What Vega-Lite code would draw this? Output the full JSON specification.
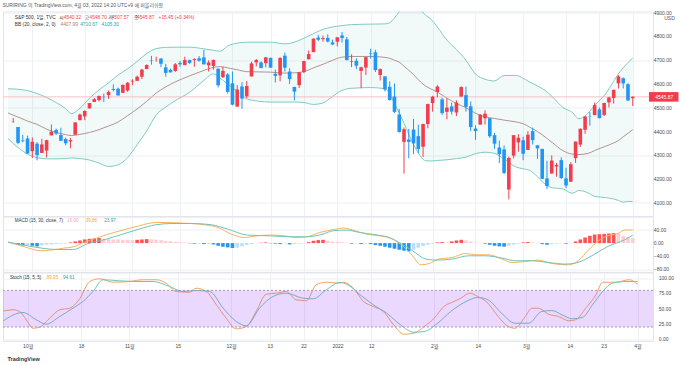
{
"$schema": "https://vega.github.io/schema/vega-lite/v6.json",
"background": "white",
"padding": {"left": 0, "top": 2.5, "right": 0, "bottom": 0},
"spacing": 0,
"bounds": "flush",
"title": {"text": "SURIRING 이 TradingView.com, 4월 03, 2022 14:20 UTC+9 에 퍼블리쉬함", "anchor": "start", "fontSize": 4.95, "fontWeight": "normal", "font": "Liberation Sans, Noto Sans CJK KR", "color": "#555", "offset": 2, "dx": 2},
"config": {
  "view": {"stroke": "#e0e3eb", "strokeWidth": 1},
  "axis": {"labelFont": "Liberation Sans", "labelFontSize": 5, "labelColor": "#4a4a4a", "gridColor": "#eef0f4", "gridWidth": 1, "ticks": false, "domain": false, "labelPadding": 4, "labelOverlap": false, "labelFlush": false},
  "text": {"font": "Liberation Sans, Noto Sans CJK KR"}
},
"datasets": {
"candles": [
{"i":-4,"o":4442.12,"h":4457.30,"l":4436.19,"c":4443.11},
{"i":-3,"o":4419.54,"h":4419.54,"l":4346.33,"c":4352.63},
{"i":-2,"o":4362.41,"h":4385.57,"l":4355.08,"c":4359.46},
{"i":-1,"o":4370.67,"h":4382.55,"l":4306.24,"c":4307.54},
{"i":0,"o":4317.16,"h":4375.19,"l":4288.52,"c":4357.04},
{"i":1,"o":4348.84,"h":4355.51,"l":4278.94,"c":4300.46},
{"i":2,"o":4309.87,"h":4369.23,"l":4309.87,"c":4345.72},
{"i":3,"o":4319.57,"h":4365.57,"l":4290.49,"c":4363.55},
{"i":4,"o":4383.73,"h":4429.97,"l":4383.73,"c":4399.76},
{"i":5,"o":4406.51,"h":4412.02,"l":4386.22,"c":4391.34},
{"i":6,"o":4385.44,"h":4415.88,"l":4360.59,"c":4361.19},
{"i":7,"o":4368.31,"h":4374.89,"l":4342.09,"c":4350.65},
{"i":8,"o":4358.01,"h":4372.87,"l":4329.92,"c":4363.80},
{"i":9,"o":4386.75,"h":4439.73,"l":4386.75,"c":4438.26},
{"i":10,"o":4447.69,"h":4475.82,"l":4447.69,"c":4471.37},
{"i":11,"o":4463.72,"h":4488.75,"l":4447.47,"c":4486.46},
{"i":12,"o":4497.34,"h":4520.40,"l":4496.41,"c":4519.63},
{"i":13,"o":4524.42,"h":4540.87,"l":4524.40,"c":4536.19},
{"i":14,"o":4532.24,"h":4551.44,"l":4526.89,"c":4549.78},
{"i":15,"o":4546.12,"h":4559.67,"l":4524.00,"c":4544.90},
{"i":16,"o":4553.69,"h":4572.62,"l":4537.36,"c":4566.48},
{"i":17,"o":4578.69,"h":4598.53,"l":4569.17,"c":4574.79},
{"i":18,"o":4580.22,"h":4584.57,"l":4551.66,"c":4551.68},
{"i":19,"o":4562.84,"h":4597.55,"l":4562.84,"c":4596.42},
{"i":20,"o":4572.87,"h":4608.08,"l":4567.59,"c":4605.38},
{"i":21,"o":4610.62,"h":4620.34,"l":4595.06,"c":4613.67},
{"i":22,"o":4613.34,"h":4635.15,"l":4613.34,"c":4630.65},
{"i":23,"o":4630.65,"h":4663.46,"l":4621.19,"c":4660.57},
{"i":24,"o":4662.93,"h":4683.00,"l":4662.59,"c":4680.06},
{"i":25,"o":4699.26,"h":4718.50,"l":4681.32,"c":4697.53},
{"i":26,"o":4701.48,"h":4714.92,"l":4694.39,"c":4701.70},
{"i":27,"o":4707.25,"h":4708.53,"l":4670.87,"c":4685.25},
{"i":28,"o":4670.26,"h":4684.85,"l":4630.86,"c":4646.71},
{"i":29,"o":4659.39,"h":4664.55,"l":4648.31,"c":4649.27},
{"i":30,"o":4655.24,"h":4688.47,"l":4650.77,"c":4682.85},
{"i":31,"o":4689.30,"h":4697.42,"l":4672.86,"c":4682.80},
{"i":32,"o":4679.42,"h":4714.95,"l":4679.42,"c":4700.90},
{"i":33,"o":4701.50,"h":4701.50,"l":4684.41,"c":4688.67},
{"i":34,"o":4700.72,"h":4708.80,"l":4672.78,"c":4704.54},
{"i":35,"o":4708.44,"h":4717.75,"l":4694.22,"c":4697.96},
{"i":36,"o":4712.00,"h":4743.83,"l":4682.17,"c":4682.94},
{"i":37,"o":4678.48,"h":4699.39,"l":4652.66,"c":4690.70},
{"i":38,"o":4675.78,"h":4702.87,"l":4659.89,"c":4701.46},
{"i":39,"o":4664.63,"h":4664.63,"l":4585.43,"c":4594.62},
{"i":40,"o":4628.75,"h":4672.95,"l":4625.26,"c":4655.27},
{"i":41,"o":4640.25,"h":4646.02,"l":4560.00,"c":4567.00},
{"i":42,"o":4602.82,"h":4652.94,"l":4510.27,"c":4513.04},
{"i":43,"o":4504.73,"h":4595.46,"l":4504.73,"c":4577.10},
{"i":44,"o":4589.49,"h":4608.03,"l":4495.12,"c":4538.43},
{"i":45,"o":4548.37,"h":4612.60,"l":4540.51,"c":4591.67},
{"i":46,"o":4631.97,"h":4694.04,"l":4631.97,"c":4686.75},
{"i":47,"o":4690.86,"h":4705.06,"l":4674.52,"c":4701.21},
{"i":48,"o":4691.00,"h":4695.26,"l":4665.98,"c":4667.45},
{"i":49,"o":4687.64,"h":4713.57,"l":4670.24,"c":4712.02},
{"i":50,"o":4710.30,"h":4710.30,"l":4667.60,"c":4668.97},
{"i":51,"o":4642.99,"h":4660.47,"l":4606.52,"c":4634.09},
{"i":52,"o":4636.46,"h":4712.60,"l":4611.22,"c":4709.85},
{"i":53,"o":4719.13,"h":4731.99,"l":4651.89,"c":4668.67},
{"i":54,"o":4652.50,"h":4666.70,"l":4600.22,"c":4620.64},
{"i":55,"o":4587.90,"h":4587.90,"l":4531.10,"c":4568.02},
{"i":56,"o":4594.96,"h":4651.14,"l":4583.16,"c":4649.23},
{"i":57,"o":4650.36,"h":4697.67,"l":4645.53,"c":4696.56},
{"i":58,"o":4703.96,"h":4740.74,"l":4703.96,"c":4725.79},
{"i":59,"o":4733.99,"h":4791.49,"l":4733.99,"c":4791.19},
{"i":60,"o":4795.49,"h":4807.02,"l":4780.04,"c":4786.35},
{"i":61,"o":4788.64,"h":4804.06,"l":4778.08,"c":4793.06},
{"i":62,"o":4794.23,"h":4808.93,"l":4775.33,"c":4778.73},
{"i":63,"o":4775.21,"h":4786.83,"l":4765.75,"c":4766.18},
{"i":64,"o":4778.14,"h":4796.64,"l":4758.17,"c":4796.56},
{"i":65,"o":4804.51,"h":4818.62,"l":4774.27,"c":4793.54},
{"i":66,"o":4787.99,"h":4797.70,"l":4699.44,"c":4700.58},
{"i":67,"o":4693.39,"h":4725.01,"l":4671.26,"c":4696.05},
{"i":68,"o":4697.66,"h":4707.95,"l":4662.74,"c":4677.03},
{"i":69,"o":4655.34,"h":4673.02,"l":4582.24,"c":4670.29},
{"i":70,"o":4669.14,"h":4714.13,"l":4638.27,"c":4713.07},
{"i":71,"o":4728.59,"h":4748.83,"l":4706.71,"c":4726.35},
{"i":72,"o":4733.56,"h":4744.13,"l":4650.29,"c":4659.03},
{"i":73,"o":4637.99,"h":4665.13,"l":4614.75,"c":4662.85},
{"i":74,"o":4632.24,"h":4632.24,"l":4568.70,"c":4577.11},
{"i":75,"o":4588.03,"h":4611.55,"l":4530.20,"c":4532.76},
{"i":76,"o":4547.35,"h":4602.11,"l":4477.95,"c":4482.73},
{"i":77,"o":4471.38,"h":4494.52,"l":4395.34,"c":4397.94},
{"i":78,"o":4356.32,"h":4417.35,"l":4222.62,"c":4410.13},
{"i":79,"o":4366.64,"h":4411.01,"l":4287.11,"c":4356.45},
{"i":80,"o":4408.43,"h":4453.23,"l":4304.80,"c":4349.93},
{"i":81,"o":4380.58,"h":4428.74,"l":4309.50,"c":4326.51},
{"i":82,"o":4336.19,"h":4432.72,"l":4292.46,"c":4431.85},
{"i":83,"o":4431.79,"h":4516.89,"l":4414.02,"c":4515.55},
{"i":84,"o":4519.57,"h":4550.49,"l":4483.53,"c":4546.54},
{"i":85,"o":4566.39,"h":4595.31,"l":4544.32,"c":4589.38},
{"i":86,"o":4535.41,"h":4542.88,"l":4470.39,"c":4477.44},
{"i":87,"o":4482.79,"h":4539.66,"l":4451.50,"c":4500.53},
{"i":88,"o":4505.75,"h":4521.86,"l":4471.47,"c":4483.87},
{"i":89,"o":4480.02,"h":4531.32,"l":4465.40,"c":4521.54},
{"i":90,"o":4547.00,"h":4590.03,"l":4547.00,"c":4587.18},
{"i":91,"o":4553.24,"h":4588.92,"l":4484.31,"c":4504.08},
{"i":92,"o":4506.27,"h":4526.33,"l":4401.41,"c":4418.64},
{"i":93,"o":4412.61,"h":4426.22,"l":4364.84,"c":4401.67},
{"i":94,"o":4429.28,"h":4472.77,"l":4429.28,"c":4471.07},
{"i":95,"o":4455.75,"h":4489.55,"l":4429.68,"c":4475.01},
{"i":96,"o":4456.06,"h":4456.06,"l":4373.81,"c":4380.26},
{"i":97,"o":4384.57,"h":4394.60,"l":4327.22,"c":4348.87},
{"i":98,"o":4332.74,"h":4362.12,"l":4267.11,"c":4304.76},
{"i":99,"o":4324.93,"h":4341.51,"l":4221.51,"c":4225.50},
{"i":100,"o":4155.77,"h":4294.73,"l":4114.65,"c":4288.70},
{"i":101,"o":4298.38,"h":4385.34,"l":4286.83,"c":4384.65},
{"i":102,"o":4354.17,"h":4388.84,"l":4315.12,"c":4373.94},
{"i":103,"o":4363.14,"h":4378.45,"l":4279.54,"c":4306.26},
{"i":104,"o":4322.56,"h":4401.48,"l":4322.56,"c":4386.54},
{"i":105,"o":4401.31,"h":4416.78,"l":4345.56,"c":4363.49},
{"i":106,"o":4342.12,"h":4342.12,"l":4284.98,"c":4328.87},
{"i":107,"o":4327.01,"h":4327.01,"l":4199.85,"c":4201.09},
{"i":108,"o":4202.66,"h":4276.94,"l":4157.87,"c":4170.70},
{"i":109,"o":4223.10,"h":4299.40,"l":4223.10,"c":4277.88},
{"i":110,"o":4252.55,"h":4268.28,"l":4209.80,"c":4259.52},
{"i":111,"o":4279.50,"h":4291.20,"l":4200.49,"c":4204.31},
{"i":112,"o":4202.75,"h":4247.57,"l":4161.72,"c":4173.11},
{"i":113,"o":4188.82,"h":4271.05,"l":4187.90,"c":4262.45},
{"i":114,"o":4288.14,"h":4357.86,"l":4267.92,"c":4357.86},
{"i":115,"o":4345.11,"h":4412.67,"l":4335.65,"c":4411.67},
{"i":116,"o":4407.34,"h":4465.40,"l":4390.57,"c":4463.12},
{"i":117,"o":4462.40,"h":4481.75,"l":4424.30,"c":4461.18},
{"i":118,"o":4469.10,"h":4522.00,"l":4469.10,"c":4511.61},
{"i":119,"o":4493.10,"h":4501.07,"l":4455.81,"c":4456.24},
{"i":120,"o":4469.98,"h":4520.58,"l":4465.17,"c":4520.16},
{"i":121,"o":4522.66,"h":4546.03,"l":4501.07,"c":4543.06},
{"i":122,"o":4541.09,"h":4575.65,"l":4517.69,"c":4575.52},
{"i":123,"o":4602.86,"h":4637.30,"l":4581.32,"c":4631.60},
{"i":124,"o":4624.20,"h":4627.77,"l":4581.32,"c":4602.45},
{"i":125,"o":4599.02,"h":4603.07,"l":4530.41,"c":4530.41},
{"i":126,"o":4540.32,"h":4548.70,"l":4507.57,"c":4545.87}
],
"bb": [
{"i":-5.1,"u":4580,"m":4478,"lo":4370},
{"i":-3,"u":4578,"m":4461,"lo":4333},
{"i":-1,"u":4572,"m":4444,"lo":4305},
{"i":1,"u":4560,"m":4430,"lo":4290},
{"i":3,"u":4543,"m":4410,"lo":4285},
{"i":5,"u":4522,"m":4396,"lo":4285},
{"i":7,"u":4496,"m":4387,"lo":4286},
{"i":8.2,"u":4475,"m":4383,"lo":4289},
{"i":10,"u":4498,"m":4388,"lo":4286},
{"i":12,"u":4540,"m":4396,"lo":4280},
{"i":14,"u":4575,"m":4408,"lo":4267},
{"i":16,"u":4605,"m":4423,"lo":4253},
{"i":18,"u":4638,"m":4440,"lo":4260},
{"i":20,"u":4664,"m":4467,"lo":4290},
{"i":22,"u":4695,"m":4495,"lo":4345},
{"i":24,"u":4728,"m":4527,"lo":4402},
{"i":26,"u":4749,"m":4562,"lo":4470},
{"i":28,"u":4754,"m":4588,"lo":4503},
{"i":30,"u":4755,"m":4609,"lo":4530},
{"i":33,"u":4755,"m":4634,"lo":4565},
{"i":36,"u":4748,"m":4657,"lo":4615},
{"i":38,"u":4742,"m":4670,"lo":4643},
{"i":39.4,"u":4738,"m":4673,"lo":4625},
{"i":41,"u":4760,"m":4668,"lo":4600},
{"i":43,"u":4772,"m":4660,"lo":4570},
{"i":45,"u":4776,"m":4652,"lo":4537},
{"i":50,"u":4776,"m":4650,"lo":4524},
{"i":53,"u":4769,"m":4646,"lo":4524},
{"i":55,"u":4776,"m":4647,"lo":4524},
{"i":57,"u":4793,"m":4652,"lo":4522},
{"i":59,"u":4812,"m":4668,"lo":4514},
{"i":61,"u":4830,"m":4683,"lo":4520},
{"i":63,"u":4840,"m":4700,"lo":4548},
{"i":65,"u":4846,"m":4713,"lo":4573},
{"i":67,"u":4850,"m":4716,"lo":4582},
{"i":71,"u":4852,"m":4716,"lo":4585},
{"i":74,"u":4853,"m":4712,"lo":4580},
{"i":75,"u":4858,"m":4708,"lo":4560},
{"i":76,"u":4878,"m":4700,"lo":4518},
{"i":77,"u":4905,"m":4692,"lo":4478},
{"i":78,"u":4925,"m":4675,"lo":4435},
{"i":80,"u":4935,"m":4640,"lo":4345},
{"i":81.5,"u":4910,"m":4608,"lo":4295},
{"i":82.5,"u":4890,"m":4592,"lo":4277},
{"i":83.6,"u":4874,"m":4580,"lo":4276},
{"i":85,"u":4840,"m":4566,"lo":4278},
{"i":87,"u":4785,"m":4541,"lo":4281},
{"i":89,"u":4745,"m":4518,"lo":4286},
{"i":91,"u":4700,"m":4500,"lo":4292},
{"i":93,"u":4642,"m":4477,"lo":4307},
{"i":95,"u":4620,"m":4462,"lo":4313},
{"i":97,"u":4613,"m":4455,"lo":4308},
{"i":99,"u":4636,"m":4448,"lo":4284},
{"i":101.6,"u":4636,"m":4440,"lo":4250},
{"i":103,"u":4624,"m":4433,"lo":4243},
{"i":104.4,"u":4608,"m":4418,"lo":4236},
{"i":106,"u":4592,"m":4400,"lo":4210},
{"i":107.1,"u":4580,"m":4385,"lo":4187},
{"i":109.2,"u":4545,"m":4352,"lo":4163},
{"i":111.3,"u":4502,"m":4320,"lo":4159},
{"i":113.3,"u":4481,"m":4305,"lo":4140},
{"i":114.7,"u":4454,"m":4303,"lo":4152},
{"i":116.8,"u":4481,"m":4309,"lo":4140},
{"i":118,"u":4510,"m":4320,"lo":4127},
{"i":120.3,"u":4559,"m":4338,"lo":4122},
{"i":122,"u":4612,"m":4352,"lo":4116},
{"i":123,"u":4643,"m":4362,"lo":4110},
{"i":124,"u":4668,"m":4378,"lo":4103},
{"i":125.1,"u":4692,"m":4394,"lo":4106},
{"i":126,"u":4710.67,"m":4407.99,"lo":4105.30}
],
"macd": [
{"i":-5.1,"v":3},{"i":-1.65,"v":-11.2},{"i":1.78,"v":-23.3},{"i":3.84,"v":-21.2},{"i":6.61,"v":-15.2},{"i":8.68,"v":-11.2},{"i":10.75,"v":1.8},{"i":13.5,"v":15.2},{"i":15.56,"v":25.2},{"i":19,"v":39.4},{"i":22.4,"v":52.4},{"i":25.9,"v":62.4},{"i":27.96,"v":62.4},{"i":31.4,"v":60.6},{"i":36.2,"v":55.5},{"i":38.98,"v":47.3},{"i":41.74,"v":27.3},{"i":44.5,"v":17},{"i":47.24,"v":22.1},{"i":50,"v":24.2},{"i":52.8,"v":22.1},{"i":55.5,"v":17},{"i":57.6,"v":19.1},{"i":60.3,"v":32.1},{"i":63.8,"v":42.4},{"i":65.2,"v":45.5},{"i":67.3,"v":39.4},{"i":70.06,"v":27.3},{"i":72.8,"v":22.1},{"i":75.6,"v":12.1},{"i":77.7,"v":-8.2},{"i":79.8,"v":-38.5},{"i":81.5,"v":-65.8},{"i":83.3,"v":-61.8},{"i":85.3,"v":-48.5},{"i":88.1,"v":-43.6},{"i":90.9,"v":-31.5},{"i":93,"v":-35.5},{"i":95.8,"v":-35.5},{"i":98.6,"v":-48.5},{"i":100.7,"v":-58.8},{"i":103.5,"v":-55.8},{"i":106.2,"v":-51.5},{"i":109,"v":-61.8},{"i":112.5,"v":-65.8},{"i":114.6,"v":-53.6},{"i":116.7,"v":-21.2},{"i":118.8,"v":7},{"i":120.8,"v":22.1},{"i":122.9,"v":29.1},{"i":124.3,"v":39.4},{"i":126,"v":39.86}
],
"signal": [
{"i":-5.1,"v":3},{"i":-0.97,"v":-8.2},{"i":2.5,"v":-16.4},{"i":5.2,"v":-19.4},{"i":8.68,"v":-19.4},{"i":11.4,"v":-3},{"i":15.56,"v":12.1},{"i":19,"v":27.3},{"i":22.4,"v":42.4},{"i":25.9,"v":55.5},{"i":29.3,"v":59.4},{"i":33.5,"v":59.4},{"i":37.6,"v":55.5},{"i":41,"v":42.4},{"i":45.2,"v":24.2},{"i":50,"v":22.1},{"i":54.1,"v":19.1},{"i":57.6,"v":19.1},{"i":61,"v":27.3},{"i":63.1,"v":37.3},{"i":65.9,"v":39.4},{"i":68.7,"v":32.1},{"i":72.1,"v":25.2},{"i":74.9,"v":17},{"i":77,"v":1.8},{"i":79.8,"v":-23.3},{"i":82.6,"v":-48.5},{"i":84.7,"v":-51.5},{"i":88.1,"v":-48.5},{"i":91.6,"v":-38.5},{"i":95.1,"v":-38.5},{"i":98.6,"v":-45.5},{"i":101.4,"v":-53.6},{"i":104.8,"v":-53.6},{"i":108.3,"v":-58.8},{"i":111.8,"v":-63.6},{"i":114.6,"v":-58},{"i":117.4,"v":-38.5},{"i":120.8,"v":-10},{"i":124.3,"v":10},{"i":126,"v":23.97}
],
"hist": [
{"i":-4,"h":-2,"t":"L"},{"i":-3,"h":-5,"t":"B"},{"i":-2,"h":-7,"t":"B"},{"i":-1,"h":-6,"t":"L"},{"i":0,"h":-8,"t":"B"},{"i":1,"h":-10,"t":"B"},{"i":2,"h":-7,"t":"L"},{"i":3,"h":-5,"t":"L"},{"i":4,"h":-4,"t":"L"},{"i":5,"h":-3,"t":"L"},{"i":6,"h":-2,"t":"L"},{"i":7,"h":-1,"t":"L"},{"i":8,"h":2,"t":"R"},{"i":9,"h":5,"t":"R"},{"i":10,"h":8,"t":"R"},{"i":11,"h":11,"t":"R"},{"i":12,"h":13,"t":"R"},{"i":13,"h":14,"t":"R"},{"i":14,"h":15,"t":"R"},{"i":15,"h":13,"t":"P"},{"i":16,"h":12,"t":"P"},{"i":17,"h":11,"t":"P"},{"i":18,"h":11,"t":"P"},{"i":19,"h":10,"t":"P"},{"i":20,"h":10,"t":"P"},{"i":21,"h":9,"t":"P"},{"i":22,"h":10,"t":"R"},{"i":23,"h":11,"t":"R"},{"i":24,"h":12,"t":"R"},{"i":25,"h":11,"t":"P"},{"i":26,"h":10,"t":"P"},{"i":27,"h":9,"t":"P"},{"i":28,"h":7,"t":"P"},{"i":29,"h":6,"t":"P"},{"i":30,"h":4,"t":"P"},{"i":31,"h":3,"t":"P"},{"i":32,"h":2,"t":"P"},{"i":33,"h":-1,"t":"B"},{"i":34,"h":-2,"t":"B"},{"i":35,"h":-2,"t":"L"},{"i":36,"h":-3,"t":"B"},{"i":37,"h":-3,"t":"L"},{"i":38,"h":-4,"t":"B"},{"i":39,"h":-8,"t":"B"},{"i":40,"h":-11,"t":"B"},{"i":41,"h":-13,"t":"B"},{"i":42,"h":-15,"t":"B"},{"i":43,"h":-14,"t":"L"},{"i":44,"h":-10,"t":"L"},{"i":45,"h":-6,"t":"L"},{"i":46,"h":-3,"t":"L"},{"i":47,"h":-1,"t":"L"},{"i":48,"h":1,"t":"R"},{"i":49,"h":2,"t":"R"},{"i":50,"h":-1,"t":"B"},{"i":51,"h":-2,"t":"B"},{"i":52,"h":-3,"t":"B"},{"i":53,"h":-1,"t":"L"},{"i":54,"h":-4,"t":"B"},{"i":55,"h":-3,"t":"L"},{"i":56,"h":-2,"t":"L"},{"i":57,"h":-1,"t":"L"},{"i":58,"h":3,"t":"R"},{"i":59,"h":7,"t":"R"},{"i":60,"h":9,"t":"R"},{"i":61,"h":10,"t":"R"},{"i":62,"h":7,"t":"P"},{"i":63,"h":5,"t":"P"},{"i":64,"h":4,"t":"P"},{"i":65,"h":3,"t":"P"},{"i":66,"h":1,"t":"P"},{"i":67,"h":-2,"t":"B"},{"i":68,"h":-1,"t":"L"},{"i":69,"h":-3,"t":"B"},{"i":70,"h":-2,"t":"L"},{"i":71,"h":-3,"t":"B"},{"i":72,"h":-6,"t":"B"},{"i":73,"h":-8,"t":"B"},{"i":74,"h":-11,"t":"B"},{"i":75,"h":-14,"t":"B"},{"i":76,"h":-17,"t":"B"},{"i":77,"h":-20,"t":"B"},{"i":78,"h":-23,"t":"B"},{"i":79,"h":-25,"t":"B"},{"i":80,"h":-20,"t":"L"},{"i":81,"h":-14,"t":"L"},{"i":82,"h":-9,"t":"L"},{"i":83,"h":-5,"t":"L"},{"i":84,"h":-2,"t":"L"},{"i":85,"h":2,"t":"R"},{"i":86,"h":3,"t":"R"},{"i":87,"h":2,"t":"P"},{"i":88,"h":5,"t":"R"},{"i":89,"h":8,"t":"R"},{"i":90,"h":10,"t":"R"},{"i":91,"h":8,"t":"P"},{"i":92,"h":5,"t":"P"},{"i":93,"h":2,"t":"P"},{"i":94,"h":1,"t":"P"},{"i":95,"h":-2,"t":"B"},{"i":96,"h":-5,"t":"B"},{"i":97,"h":-8,"t":"B"},{"i":98,"h":-10,"t":"B"},{"i":99,"h":-11,"t":"B"},{"i":100,"h":-8,"t":"L"},{"i":101,"h":-5,"t":"L"},{"i":102,"h":-2,"t":"L"},{"i":103,"h":2,"t":"R"},{"i":104,"h":3,"t":"R"},{"i":105,"h":2,"t":"P"},{"i":106,"h":1,"t":"P"},{"i":107,"h":-3,"t":"B"},{"i":108,"h":-5,"t":"B"},{"i":109,"h":-3,"t":"L"},{"i":110,"h":-2,"t":"L"},{"i":111,"h":-1,"t":"L"},{"i":112,"h":-2,"t":"B"},{"i":113,"h":-1,"t":"L"},{"i":114,"h":5,"t":"R"},{"i":115,"h":11,"t":"R"},{"i":116,"h":17,"t":"R"},{"i":117,"h":22,"t":"R"},{"i":118,"h":26,"t":"R"},{"i":119,"h":27,"t":"R"},{"i":120,"h":28,"t":"R"},{"i":121,"h":29,"t":"R"},{"i":122,"h":30,"t":"R"},{"i":123,"h":28,"t":"P"},{"i":124,"h":22,"t":"P"},{"i":125,"h":18,"t":"P"},{"i":126,"h":15.9,"t":"P"}
],
"stk": [
{"i":-5.1,"v":46},{"i":-3.04,"v":48.2},{"i":-1.65,"v":45.4},{"i":-0.29,"v":31.8},{"i":1.1,"v":18},{"i":2.48,"v":19.7},{"i":4.55,"v":34.4},{"i":6.61,"v":48.2},{"i":8.68,"v":50.8},{"i":10.75,"v":66.2},{"i":12.8,"v":94.6},{"i":14.9,"v":99},{"i":17.6,"v":93.4},{"i":21.1,"v":94.6},{"i":23.8,"v":97.4},{"i":26.6,"v":97.4},{"i":28.6,"v":91.8},{"i":30.7,"v":78.2},{"i":33.5,"v":77},{"i":34.8,"v":83.6},{"i":36.9,"v":78.2},{"i":39,"v":56.4},{"i":41,"v":34.4},{"i":43.1,"v":17},{"i":45.2,"v":20.8},{"i":47.2,"v":45.4},{"i":49.3,"v":73.8},{"i":51.4,"v":75.4},{"i":53.4,"v":78.2},{"i":55.5,"v":64.6},{"i":57.6,"v":63},{"i":59.6,"v":89.2},{"i":61.7,"v":93.4},{"i":64.5,"v":91.8},{"i":65.2,"v":93.4},{"i":67.3,"v":83.6},{"i":69.4,"v":61.8},{"i":71.4,"v":53.6},{"i":73.5,"v":45.4},{"i":75.6,"v":23.6},{"i":77.7,"v":8.2},{"i":79.8,"v":9.8},{"i":81.9,"v":20.8},{"i":84,"v":34.4},{"i":86,"v":53.6},{"i":88.1,"v":61.8},{"i":89.5,"v":67.2},{"i":91.3,"v":75.4},{"i":93,"v":70},{"i":95.1,"v":59},{"i":97.2,"v":37.2},{"i":99.3,"v":20.8},{"i":100.7,"v":18},{"i":102.8,"v":37.2},{"i":104.2,"v":50.8},{"i":105.5,"v":50.8},{"i":107.6,"v":41},{"i":109.7,"v":37.2},{"i":111.8,"v":30.2},{"i":113.2,"v":31.8},{"i":115.3,"v":50.8},{"i":117.4,"v":72.8},{"i":118.8,"v":93.4},{"i":121.5,"v":93.4},{"i":124.3,"v":97.4},{"i":126,"v":89.95}
],
"std": [
{"i":-5.1,"v":30},{"i":-0.97,"v":43.8},{"i":1.78,"v":31.8},{"i":3.84,"v":24.6},{"i":6.61,"v":37.2},{"i":9.36,"v":50.8},{"i":11.4,"v":61.8},{"i":13.5,"v":78.2},{"i":15.56,"v":97.4},{"i":19,"v":95.7},{"i":22.4,"v":94.6},{"i":25.9,"v":94.6},{"i":29.3,"v":86.4},{"i":32.1,"v":78.2},{"i":34.8,"v":79.8},{"i":37.6,"v":78.2},{"i":40.4,"v":50.8},{"i":43.1,"v":29},{"i":45.2,"v":22},{"i":47.9,"v":50.8},{"i":50.7,"v":70},{"i":53.4,"v":75.4},{"i":56.9,"v":67.2},{"i":59,"v":66.2},{"i":61.7,"v":81},{"i":64.5,"v":93},{"i":65.9,"v":90.2},{"i":68.7,"v":72.8},{"i":71.4,"v":56.4},{"i":74.2,"v":42.6},{"i":77,"v":23.6},{"i":79.8,"v":11.5},{"i":81.9,"v":12.6},{"i":84.7,"v":26.2},{"i":87.4,"v":45.4},{"i":90.9,"v":63},{"i":93,"v":68.4},{"i":95.1,"v":64.6},{"i":97.9,"v":42.6},{"i":100.7,"v":26.2},{"i":103.5,"v":26.2},{"i":106.2,"v":45.4},{"i":108.3,"v":47},{"i":110.4,"v":40},{"i":112.5,"v":33.4},{"i":114.6,"v":35.6},{"i":116.7,"v":56.4},{"i":118.8,"v":78.2},{"i":120.8,"v":91.8},{"i":123.7,"v":94.6},{"i":126,"v":94.61}
]
},
"vconcat": [
{
 "width": 650, "height": 204.7,
 "layer": [
  {"data": {"name": "bb"}, "mark": {"type": "area", "interpolate": "monotone", "color": "#26a69a", "opacity": 0.06, "clip": true},
   "encoding": {
    "x": {"field": "i", "type": "quantitative", "scale": {"domain": [-5.1, 129.2], "nice": false, "zero": false},
      "axis": {"values": [0,11,21,31,42,50,57,64,71,84,93,103,112,119,126], "labels": false, "grid": true, "title": null}},
    "y": {"field": "u", "type": "quantitative", "scale": {"domain": [4043.6, 4905.2], "nice": false, "zero": false},
      "axis": {"orient": "right", "values": [4100,4200,4300,4400,4500,4600,4700,4800,4900], "labels": false, "grid": true, "title": "USD", "titleAngle": 0, "titleFontSize": 5, "titleFontWeight": "normal", "titleColor": "#555", "titleX": 16, "titleY": 6, "titleAlign": "center", "titleBaseline": "middle", "titleFont": "Liberation Sans"}},
    "y2": {"field": "lo"}}},
  {"data": {"name": "bb"}, "mark": {"type": "line", "interpolate": "monotone", "color": "#7ecbc1", "strokeWidth": 1, "clip": true},
   "encoding": {"x": {"field": "i", "type": "quantitative"}, "y": {"field": "u", "type": "quantitative"}}},
  {"data": {"name": "bb"}, "mark": {"type": "line", "interpolate": "monotone", "color": "#7ecbc1", "strokeWidth": 1, "clip": true},
   "encoding": {"x": {"field": "i", "type": "quantitative"}, "y": {"field": "lo", "type": "quantitative"}}},
  {"data": {"name": "bb"}, "mark": {"type": "line", "interpolate": "monotone", "color": "#b3928c", "strokeWidth": 1, "clip": true},
   "encoding": {"x": {"field": "i", "type": "quantitative"}, "y": {"field": "m", "type": "quantitative"}}},
  {"data": {"values": [{}]}, "mark": {"type": "rule", "color": "#f7b3b8", "strokeWidth": 0.8},
   "encoding": {"y": {"datum": 4545.87}}},
  {"data": {"name": "candles"}, "mark": {"type": "rule", "strokeWidth": 1},
   "encoding": {"x": {"field": "i", "type": "quantitative"}, "y": {"field": "l", "type": "quantitative"}, "y2": {"field": "h"},
     "color": {"condition": {"test": "datum.c >= datum.o", "value": "#f23d4f"}, "value": "#2196f3"}}},
  {"data": {"name": "candles"}, "mark": {"type": "bar", "width": 3.6},
   "encoding": {"x": {"field": "i", "type": "quantitative"}, "y": {"field": "o", "type": "quantitative"}, "y2": {"field": "c"},
     "color": {"condition": {"test": "datum.c >= datum.o", "value": "#f23d4f"}, "value": "#2196f3"}}},
  {"data": {"values": [{"v":4100},{"v":4200},{"v":4300},{"v":4400},{"v":4500},{"v":4600},{"v":4700},{"v":4800},{"v":4900}]},
   "mark": {"type": "text", "align": "left", "baseline": "middle", "fontSize": 5, "color": "#4a4a4a", "font": "Liberation Sans"},
   "encoding": {"x": {"datum": 130.4}, "y": {"field": "v", "type": "quantitative"}, "text": {"field": "v", "type": "quantitative", "format": ".2f"}}},
  {"data": {"values": [{}]}, "mark": {"type": "text", "text": "S&P 500, 1일, TVC", "align": "left", "baseline": "middle", "fontSize": 4.8, "color": "#333"},
   "encoding": {"x": {"datum": -3.66}, "y": {"datum": 4878.7}}},
  {"data": {"values": [{}]}, "mark": {"type": "text", "text": "시", "align": "left", "baseline": "middle", "fontSize": 4.8, "color": "#333"},
   "encoding": {"x": {"datum": 5.64}, "y": {"datum": 4878.7}}},
  {"data": {"values": [{}]}, "mark": {"type": "text", "text": "4540.32", "align": "left", "baseline": "middle", "fontSize": 4.8, "color": "#f23d4f"},
   "encoding": {"x": {"datum": 6.61}, "y": {"datum": 4878.7}}},
  {"data": {"values": [{}]}, "mark": {"type": "text", "text": "고", "align": "left", "baseline": "middle", "fontSize": 4.8, "color": "#333"},
   "encoding": {"x": {"datum": 11.0}, "y": {"datum": 4878.7}}},
  {"data": {"values": [{}]}, "mark": {"type": "text", "text": "4548.70", "align": "left", "baseline": "middle", "fontSize": 4.8, "color": "#f23d4f"},
   "encoding": {"x": {"datum": 12.0}, "y": {"datum": 4878.7}}},
  {"data": {"values": [{}]}, "mark": {"type": "text", "text": "저", "align": "left", "baseline": "middle", "fontSize": 4.8, "color": "#333"},
   "encoding": {"x": {"datum": 15.97}, "y": {"datum": 4878.7}}},
  {"data": {"values": [{}]}, "mark": {"type": "text", "text": "4507.57", "align": "left", "baseline": "middle", "fontSize": 4.8, "color": "#f23d4f"},
   "encoding": {"x": {"datum": 16.66}, "y": {"datum": 4878.7}}},
  {"data": {"values": [{}]}, "mark": {"type": "text", "text": "종", "align": "left", "baseline": "middle", "fontSize": 4.8, "color": "#333"},
   "encoding": {"x": {"datum": 21.35}, "y": {"datum": 4878.7}}},
  {"data": {"values": [{}]}, "mark": {"type": "text", "text": "4545.87", "align": "left", "baseline": "middle", "fontSize": 4.8, "color": "#f23d4f"},
   "encoding": {"x": {"datum": 21.97}, "y": {"datum": 4878.7}}},
  {"data": {"values": [{}]}, "mark": {"type": "text", "text": "+15.45 (+0.34%)", "align": "left", "baseline": "middle", "fontSize": 4.8, "color": "#f23d4f"},
   "encoding": {"x": {"datum": 26.5}, "y": {"datum": 4878.7}}},
  {"data": {"values": [{}]}, "mark": {"type": "text", "text": "BB (20, close, 2, 0)", "align": "left", "baseline": "middle", "fontSize": 4.8, "color": "#333"},
   "encoding": {"x": {"datum": -3.66}, "y": {"datum": 4849.2}}},
  {"data": {"values": [{}]}, "mark": {"type": "text", "text": "4407.99", "align": "left", "baseline": "middle", "fontSize": 4.8, "color": "#b07a74"},
   "encoding": {"x": {"datum": 5.91}, "y": {"datum": 4849.2}}},
  {"data": {"values": [{}]}, "mark": {"type": "text", "text": "4710.67", "align": "left", "baseline": "middle", "fontSize": 4.8, "color": "#26a69a"},
   "encoding": {"x": {"datum": 10.04}, "y": {"datum": 4849.2}}},
  {"data": {"values": [{}]}, "mark": {"type": "text", "text": "4105.30", "align": "left", "baseline": "middle", "fontSize": 4.8, "color": "#26a69a"},
   "encoding": {"x": {"datum": 14.53}, "y": {"datum": 4849.2}}},
  {"data": {"values": [{}]}, "mark": {"type": "rect", "color": "#f23d4f"},
   "encoding": {"x": {"datum": 129.4}, "x2": {"datum": 135.6}, "y": {"datum": 4566}, "y2": {"datum": 4525.7}}},
  {"data": {"values": [{}]}, "mark": {"type": "text", "text": "4545.87", "align": "center", "baseline": "middle", "fontSize": 5, "color": "white", "font": "Liberation Sans"},
   "encoding": {"x": {"datum": 132.6}, "y": {"datum": 4545.87}}}
 ]
},
{
 "width": 650, "height": 55.3,
 "layer": [
  {"data": {"name": "hist"}, "mark": {"type": "bar", "width": 3.6},
   "encoding": {
    "x": {"field": "i", "type": "quantitative", "scale": {"domain": [-5.1, 129.2], "nice": false, "zero": false},
      "axis": {"values": [0,11,21,31,42,50,57,64,71,84,93,103,112,119,126], "labels": false, "grid": true, "title": null}},
    "y": {"field": "h", "type": "quantitative", "scale": {"domain": [-87, 80.6], "nice": false, "zero": false},
      "axis": {"orient": "right", "values": [-80,-40,0,40], "labels": false, "grid": true, "title": null}},
    "y2": {"datum": 0},
    "color": {"field": "t", "type": "nominal", "scale": {"domain": ["R","P","B","L"], "range": ["#ff5252","#ffcdd2","#2196f3","#bbdefb"]}, "legend": null}}},
  {"data": {"name": "macd"}, "mark": {"type": "line", "interpolate": "monotone", "color": "#f7b35c", "strokeWidth": 1},
   "encoding": {"x": {"field": "i", "type": "quantitative"}, "y": {"field": "v", "type": "quantitative"}}},
  {"data": {"name": "signal"}, "mark": {"type": "line", "interpolate": "monotone", "color": "#6fc4b7", "strokeWidth": 1},
   "encoding": {"x": {"field": "i", "type": "quantitative"}, "y": {"field": "v", "type": "quantitative"}}},
  {"data": {"values": [{"v":40},{"v":0},{"v":-40},{"v":-80}]},
   "mark": {"type": "text", "align": "left", "baseline": "middle", "fontSize": 5, "color": "#4a4a4a", "font": "Liberation Sans"},
   "encoding": {"x": {"datum": 130.4}, "y": {"field": "v", "type": "quantitative"}, "text": {"field": "v", "type": "quantitative", "format": ".2f"}}},
  {"data": {"values": [{}]}, "mark": {"type": "text", "text": "MACD (15, 30, close, 7)", "align": "left", "baseline": "middle", "fontSize": 4.5, "color": "#333"},
   "encoding": {"x": {"datum": -3.66}, "y": {"datum": 66.7}}},
  {"data": {"values": [{}]}, "mark": {"type": "text", "text": "15.90", "align": "left", "baseline": "middle", "fontSize": 4.6, "color": "#f7a8b0"},
   "encoding": {"x": {"datum": 7.3}, "y": {"datum": 66.7}}},
  {"data": {"values": [{}]}, "mark": {"type": "text", "text": "39.86", "align": "left", "baseline": "middle", "fontSize": 4.6, "color": "#f5a742"},
   "encoding": {"x": {"datum": 11.2}, "y": {"datum": 66.7}}},
  {"data": {"values": [{}]}, "mark": {"type": "text", "text": "23.97", "align": "left", "baseline": "middle", "fontSize": 4.6, "color": "#26a69a"},
   "encoding": {"x": {"datum": 15.1}, "y": {"datum": 66.7}}}
 ]
},
{
 "width": 650, "height": 68.3,
 "layer": [
  {"data": {"name": "stk"}, "mark": {"type": "line", "interpolate": "monotone", "color": "#f5a45a", "strokeWidth": 1},
   "encoding": {
    "x": {"field": "i", "type": "quantitative", "scale": {"domain": [-5.1, 129.2], "nice": false, "zero": false},
      "axis": {"values": [0,11,21,31,42,50,57,64,71,84,93,103,112,119,126], "grid": true, "labelPadding": 3, "labelOverlap": false, "labelFont": "Liberation Sans, Noto Sans CJK KR",
        "labelExpr": "['10월','18','11월','15','12월','13','22','2022','12','2월','14','3월','14','23','4월'][indexof([0,11,21,31,42,50,57,64,71,84,93,103,112,119,126], datum.value)]",
        "title": "TradingView", "titleFontSize": 5.5, "titleFontWeight": "bold", "titleColor": "#333", "titleAnchor": "start", "titleAlign": "left", "titleX": 4, "titleY": 16, "titleFont": "Liberation Sans"}},
    "y": {"field": "v", "type": "quantitative", "scale": {"domain": [-2.6, 109.3], "nice": false, "zero": false},
      "axis": {"orient": "right", "values": [0,25,50,75,100], "labels": false, "grid": true, "title": null}}}},
  {"data": {"name": "std"}, "mark": {"type": "line", "interpolate": "monotone", "color": "#6fc4b7", "strokeWidth": 1},
   "encoding": {"x": {"field": "i", "type": "quantitative"}, "y": {"field": "v", "type": "quantitative"}}},
  {"data": {"values": [{}]}, "mark": {"type": "rect", "color": "#a64dff", "opacity": 0.22},
   "encoding": {"x": {"datum": -5.1}, "x2": {"datum": 129.2}, "y": {"datum": 20}, "y2": {"datum": 80}}},
  {"data": {"values": [{}]}, "mark": {"type": "rule", "color": "#a396b3", "strokeWidth": 1, "strokeDash": [2, 2]},
   "encoding": {"y": {"datum": 80}}},
  {"data": {"values": [{}]}, "mark": {"type": "rule", "color": "#a396b3", "strokeWidth": 1, "strokeDash": [2, 2]},
   "encoding": {"y": {"datum": 20}}},
  {"data": {"values": [{"v":0},{"v":25},{"v":50},{"v":75},{"v":100}]},
   "mark": {"type": "text", "align": "left", "baseline": "middle", "fontSize": 5, "color": "#4a4a4a", "font": "Liberation Sans"},
   "encoding": {"x": {"datum": 130.4}, "y": {"field": "v", "type": "quantitative"}, "text": {"field": "v", "type": "quantitative", "format": ".2f"}}},
  {"data": {"values": [{}]}, "mark": {"type": "text", "text": "Stoch (15, 5, 5)", "align": "left", "baseline": "middle", "fontSize": 4.6, "color": "#333"},
   "encoding": {"x": {"datum": -3.66}, "y": {"datum": 100.6}}},
  {"data": {"values": [{}]}, "mark": {"type": "text", "text": "89.95", "align": "left", "baseline": "middle", "fontSize": 4.6, "color": "#f5a742"},
   "encoding": {"x": {"datum": 3.93}, "y": {"datum": 100.6}}},
  {"data": {"values": [{}]}, "mark": {"type": "text", "text": "94.61", "align": "left", "baseline": "middle", "fontSize": 4.6, "color": "#26a69a"},
   "encoding": {"x": {"datum": 7.3}, "y": {"datum": 100.6}}}
 ]
}
]
}
